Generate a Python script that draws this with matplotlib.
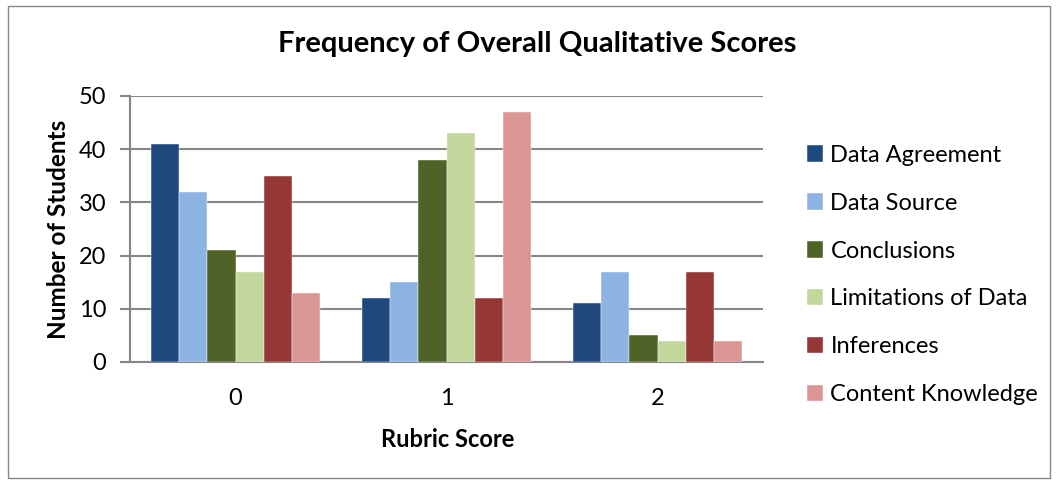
import matplotlib
matplotlib.use("Agg")
import matplotlib.pyplot as plt
import numpy as np
from matplotlib.patches import Rectangle

categories = ["0", "1", "2"]
series_names = ["Data Agreement", "Data Source", "Conclusions",
                "Limitations of Data", "Inferences", "Content Knowledge"]
data_agreement = [41, 12, 11]
data_source = [32, 15, 17]
conclusions = [21, 38, 5]
limitations = [17, 43, 4]
inferences = [35, 12, 17]
content_knowledge = [13, 47, 4]
yticks = [0, 10, 20, 30, 40, 50]

series = [data_agreement, data_source, conclusions, limitations, inferences, content_knowledge]
colors = ["#1F497D", "#8DB3E2", "#4F6228", "#C3D69B", "#953735", "#D99694"]

plt.rcParams['font.family'] = ['Lato', 'DejaVu Sans']

W, H = 1058, 484
fig = plt.figure(figsize=(W/100, H/100), dpi=100)
ax = fig.add_axes([130/W, 1-362/H, (763-130)/W, (362-96)/H])

x = np.arange(len(categories))
n = len(series)
bw = 1 / (n + 1.5)
for i, (vals, c, name) in enumerate(zip(series, colors, series_names)):
    ax.bar(x + (i - (n-1)/2) * bw, vals, width=bw, color=c, label=name,
           edgecolor="white", linewidth=0.3, zorder=3)
ax.set_xlim(-0.5, 2.5)
ax.set_ylim(0, 50)
ax.set_yticks(yticks)
ax.set_xticks(x)
ax.set_xticklabels(categories)
ax.yaxis.grid(True, color="#868686", linewidth=1.5, zorder=0)
ax.set_axisbelow(True)
for s in ["top", "right"]:
    ax.spines[s].set_visible(False)
for s in ["left", "bottom"]:
    ax.spines[s].set_color("#868686")
    ax.spines[s].set_linewidth(1.5)
ax.tick_params(axis="y", length=7, width=1.5, color="#868686", labelsize=17, pad=10)
ax.tick_params(axis="x", length=0, labelsize=17, pad=18.5)

ax.set_ylabel("Number of Students", fontsize=17.5, fontweight="bold")
ax.yaxis.set_label_coords((70-130)/633, 0.5)
ax.set_xlabel("Rubric Score", fontsize=17, fontweight="bold")
ax.xaxis.set_label_coords((448-130)/633, (362-428)/266)
fig.text(537/W, 1-44/H, "Frequency of Overall Qualitative Scores",
         ha="center", va="center", fontsize=21, fontweight="bold")

handles, labels = ax.get_legend_handles_labels()
leg = fig.legend(handles, labels, loc="center left",
                 bbox_to_anchor=(795/W, 1-275/H), frameon=False,
                 fontsize=17, handlelength=0.7, handleheight=0.7,
                 handletextpad=0.3, labelspacing=1.14, borderpad=0)

fig.patches.append(Rectangle((8/W, 6/H), 1042/W, 472/H,
                             transform=fig.transFigure, fill=False,
                             edgecolor="#868686", linewidth=1))

fig.savefig("out.png", dpi=100)
